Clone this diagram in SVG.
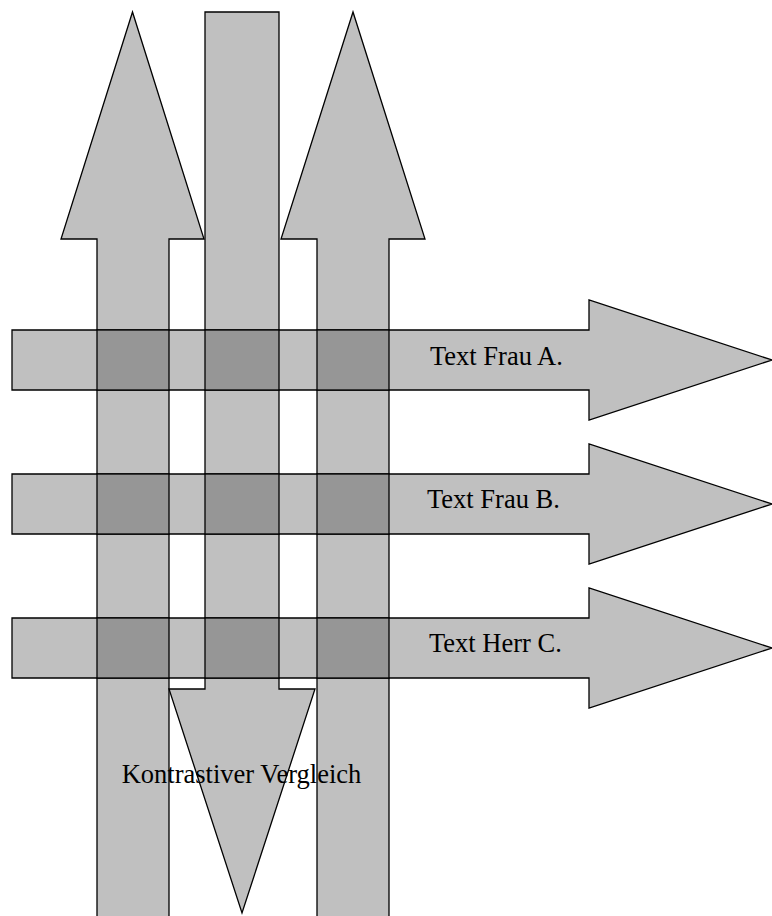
<svg xmlns="http://www.w3.org/2000/svg" width="772" height="916" viewBox="0 0 772 916">
<style>
.a{fill:#c0c0c0;stroke:#000;stroke-width:1.3;stroke-linejoin:miter}
.d{fill:#969696;stroke:#000;stroke-width:1.3}
.t{font-family:"Liberation Serif","Times New Roman",serif;font-size:26.5px;fill:#000}
</style>
<rect width="772" height="916" fill="#fff"/>
<g id="vertical-arrows">
<g id="up-left"><polygon class="a" points="97,920 97,239 61,239 132.5,12 204,239 169,239 169,920"/></g>
<g id="up-right"><polygon class="a" points="317,920 317,239 281,239 353,12 425,239 389,239 389,920"/></g>
<g id="down-middle"><polygon class="a" points="205,12 279,12 279,689 315,689 242,913 169,689 205,689"/></g>
</g>
<g id="horizontal-arrows">
<g id="frau-a"><polygon class="a" points="12,330 589,330 589,300 772,360 589,420 589,390 12,390"/></g>
<g id="frau-b"><polygon class="a" points="12,474 589,474 589,444 772,504 589,564 589,534 12,534"/></g>
<g id="herr-c"><polygon class="a" points="12,618 589,618 589,588 772,648 589,708 589,678 12,678"/></g>
</g>
<g id="intersections">
<rect class="d" x="97" y="330" width="72" height="60"/>
<rect class="d" x="205" y="330" width="74" height="60"/>
<rect class="d" x="317" y="330" width="72" height="60"/>
<rect class="d" x="97" y="474" width="72" height="60"/>
<rect class="d" x="205" y="474" width="74" height="60"/>
<rect class="d" x="317" y="474" width="72" height="60"/>
<rect class="d" x="97" y="618" width="72" height="60"/>
<rect class="d" x="205" y="618" width="74" height="60"/>
<rect class="d" x="317" y="618" width="72" height="60"/>
</g>
<g id="labels">
<text class="t" x="430" y="365">Text Frau A.</text>
<text class="t" x="427" y="508">Text Frau B.</text>
<text class="t" x="429" y="652">Text Herr C.</text>
<text class="t" x="241.5" y="783" text-anchor="middle">Kontrastiver Vergleich</text>
</g>
<g id="connectors"></g>
</svg>
